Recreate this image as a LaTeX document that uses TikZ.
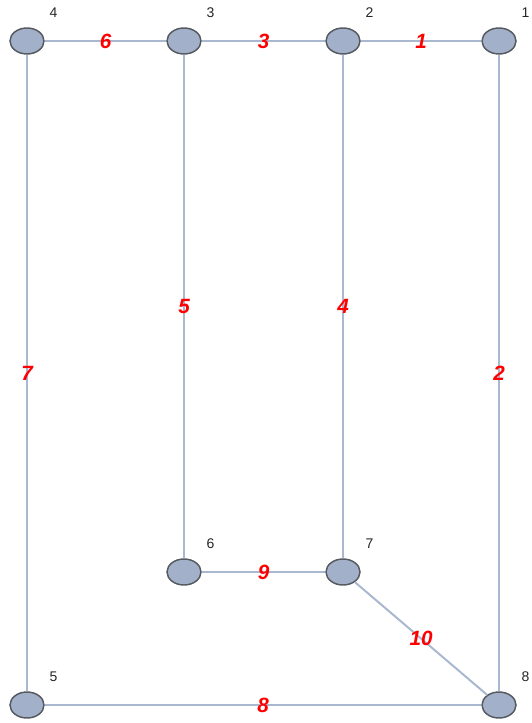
\documentclass[tikz,border=0pt]{standalone}
\usepackage{fontspec}
\setmainfont{Liberation Sans}
\usepackage{xcolor}
\usepackage{tikz}
\usetikzlibrary{shapes.geometric}
\definecolor{vertexfill}{HTML}{A2B1C9}
\definecolor{vertexdraw}{HTML}{555A60}
\definecolor{edgeline}{HTML}{A9B8CF}
\definecolor{edgered}{HTML}{FF0000}
\tikzset{
  vertex/.style={ellipse, draw=vertexdraw, line width=1.1pt, fill=vertexfill,
                 minimum width=25.5pt, minimum height=19.5pt, inner sep=0pt},
  vnum/.style={font=\fontsize{10.5}{11}\selectfont, text=black!85, xshift=4pt, yshift=7pt},
  edge/.style={draw=edgeline, line width=1.5pt},
  elbl/.style={font=\fontsize{15.5}{16}\selectfont\bfseries\itshape, text=edgered, inner sep=1pt},
}
\begin{document}
\begin{tikzpicture}[x=0.75pt, y=-0.75pt]
  \useasboundingbox (0,0) rectangle (531,723);
  % vertices
  \node[vertex, label={[vnum]north east:1}] (v1) at (499,41) {};
  \node[vertex, label={[vnum]north east:2}] (v2) at (343,41) {};
  \node[vertex, label={[vnum]north east:3}] (v3) at (184,41) {};
  \node[vertex, label={[vnum]north east:4}] (v4) at (27,41) {};
  \node[vertex, label={[vnum]north east:5}] (v5) at (27,705) {};
  \node[vertex, label={[vnum]north east:6}] (v6) at (184,572) {};
  \node[vertex, label={[vnum]north east:7}] (v7) at (343,572) {};
  \node[vertex, label={[vnum]north east:8}] (v8) at (499,705) {};
  % edges
  \draw[edge] (v2) -- node[elbl]{1} (v1);
  \draw[edge] (v1) -- node[elbl]{2} (v8);
  \draw[edge] (v3) -- node[elbl]{3} (v2);
  \draw[edge] (v2) -- node[elbl]{4} (v7);
  \draw[edge] (v3) -- node[elbl]{5} (v6);
  \draw[edge] (v4) -- node[elbl]{6} (v3);
  \draw[edge] (v4) -- node[elbl]{7} (v5);
  \draw[edge] (v5) -- node[elbl]{8} (v8);
  \draw[edge] (v6) -- node[elbl]{9} (v7);
  \draw[edge] (v7) -- node[elbl]{10} (v8);
\end{tikzpicture}
\end{document}
